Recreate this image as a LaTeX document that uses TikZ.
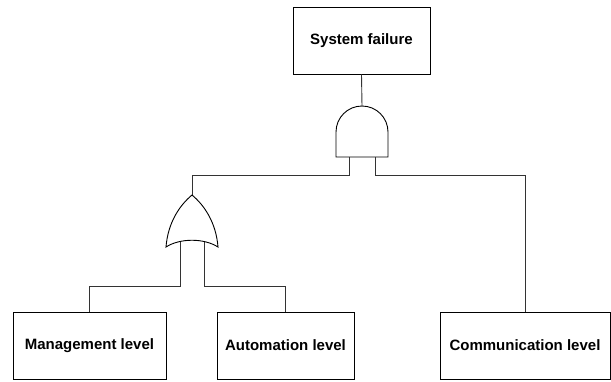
\documentclass[tikz,border=0pt]{standalone}
\usepackage{fontspec}
\setmainfont{Liberation Sans}
\begin{document}
\begin{tikzpicture}[x=1pt,y=-1pt,
  box/.style={draw=black,line width=0.9pt,minimum height=67pt,inner sep=0pt,
    font=\bfseries\fontsize{15}{18}\selectfont},
  wire/.style={draw=black!80,line width=0.9pt},
  gate/.style={draw=black,line width=0.9pt,fill=white}]
\useasboundingbox (0,0) rectangle (611,381);
% boxes
\node[box,minimum width=137pt] (sys)  at (361.5,40.5) {System failure};
\node[box,minimum width=153pt] (mgmt) at (89.5,345.5) {Management level};
\node[box,minimum width=137pt] (auto) at (285.5,345.5) {Automation level};
\node[box,minimum width=170pt] (comm) at (525,345.5) {Communication level};
% gate anchor points
\coordinate (andtop) at (362,106);
\coordinate (andL) at (349,157);
\coordinate (andR) at (375,157);
\coordinate (ortop) at (192,195);
\coordinate (orL) at (180,242);
\coordinate (orR) at (204,242);
% connectors
\draw[wire] (sys.south) -- (andtop);
\draw[wire] (andL) -- ++(0,18) -| (ortop);
\draw[wire] (andR) -- ++(0,18) -| (comm.north);
\draw[wire] (orL) -- ++(0,44) -| (mgmt.north);
\draw[wire] (orR) -- ++(0,44) -| (auto.north);
% AND gate
\draw[gate] (336,157) -- (336,132) arc[start angle=180,end angle=0,radius=26pt] -- (388,157) -- cycle;
% OR gate
\draw[gate] (166,247) .. controls (168,222) and (180,205) .. (ortop)
  .. controls (204,205) and (216,222) .. (218,247)
  .. controls (204,238) and (180,238) .. (166,247) -- cycle;
\end{tikzpicture}
\end{document}
